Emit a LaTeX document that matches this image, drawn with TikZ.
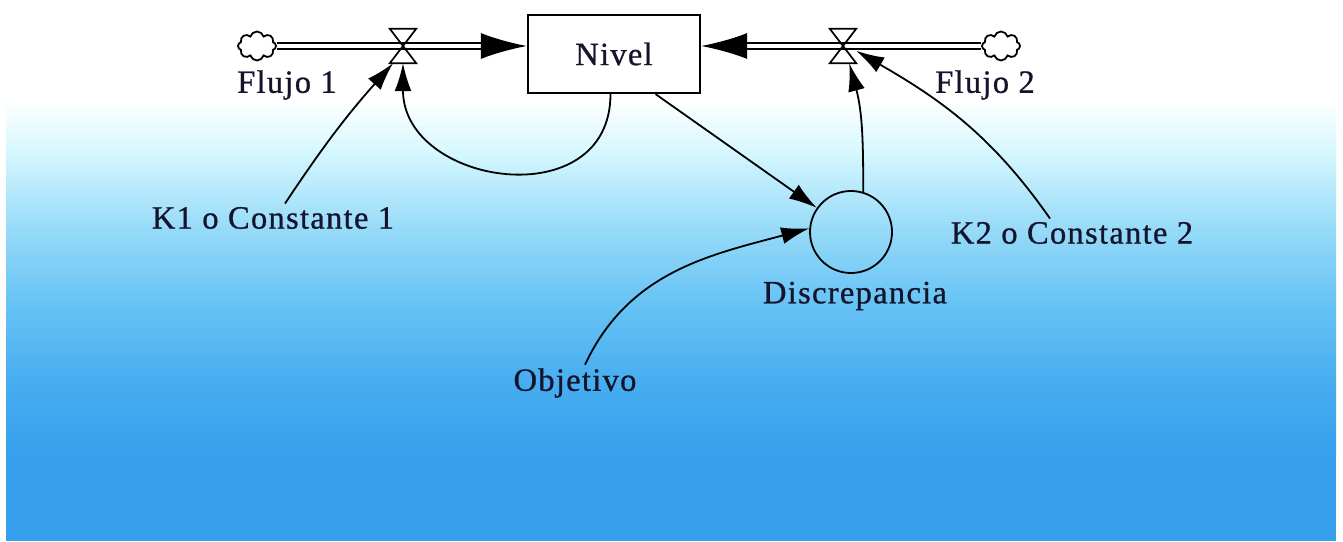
\documentclass[tikz,border=0pt]{standalone}
\usepackage{fontspec}
\setmainfont{Liberation Serif}[LetterSpace=4,FakeBold=0.8]
\usetikzlibrary{arrows.meta,shapes.symbols}

\definecolor{sky1}{RGB}{215,248,255}
\definecolor{sky2}{RGB}{150,218,248}
\definecolor{sky3}{RGB}{105,196,245}
\definecolor{sky4}{RGB}{72,174,240}
\definecolor{skybot}{RGB}{54,160,237}
\definecolor{ink}{RGB}{20,20,45}

\begin{document}
\begin{tikzpicture}[
      x=1pt,y=1pt,
      >={Latex[length=28pt,width=17pt]},
      every node/.style={font=\fontsize{32.5}{38}\selectfont,text=ink},
      stock/.style={draw,line width=2.2,minimum width=172,minimum height=78,inner sep=0,fill=white},
      aux/.style={draw,circle,line width=1.8,minimum size=82,inner sep=0},
      source/.style={draw,cloud,cloud puffs=8,aspect=1.4,line width=1.8,minimum width=38,minimum height=29,inner sep=0,fill=white},
      valve/.style={minimum width=26,minimum height=34,inner sep=0},
      pipe/.style={draw,double,double distance=4.5,line width=2},
      flowtip/.style={-{Latex[length=46pt,width=26pt]},line width=2},
      link/.style={->,line width=1.8}
    ]
    \useasboundingbox (0,0) rectangle (1343,541);

    % backdrop: white band on top, fading into blue
    \fill[white] (0,0) rectangle (1343,541);
    \fill[skybot] (6,0) rectangle (1336,86.5);
    \shade[top color=sky4,bottom color=skybot] (6,86) rectangle (1336,161.5);
    \shade[top color=sky3,bottom color=sky4] (6,161) rectangle (1336,241.5);
    \shade[top color=sky2,bottom color=sky3] (6,241) rectangle (1336,311.5);
    \shade[top color=sky1,bottom color=sky2] (6,311) rectangle (1336,391.5);
    \shade[top color=white,bottom color=sky1] (6,391) rectangle (1336,441);

    \node[stock] (nivel) at (614,487) {Nivel};
    \node[aux] (disc) at (851,309) {};
    \node[source] (src1) at (257,495) {};
    \node[source] (src2) at (1001,495) {};
    \node[valve] (v1) at (403,495) {};
    \node[valve] (v2) at (843,495) {};

    \node (flujo1) at (287,456) {Flujo 1};
    \node (flujo2) at (985,456) {Flujo 2};
    \node (k1) at (273,323) {K1 o Constante 1};
    \node (k2) at (1072,308) {K2 o Constante 2};
    \node (discl) at (855,245) {Discrepancia};
    \node (obj) at (575,158) {Objetivo};

    % flow pipes into the stock
    \coordinate (in1) at (src1.east -| nivel.west);
    \coordinate (in2) at (src2.west -| nivel.east);
    \draw[pipe,shorten >=40] (src1.east) -- (in1);
    \draw[pipe,shorten >=40] (src2.west) -- (in2);
    \draw[flowtip] (in1) ++(-44,0) -- (in1);
    \draw[flowtip] (in2) ++(44,0) -- (in2);
    \foreach \v in {v1,v2}
      \draw[line width=1.7] (\v.north west) -- (\v.north east) -- (\v.south west) -- (\v.south east) -- cycle;

    \path[link]
      ([xshift=12]k1.north) edge [bend left=4] (v1.240)
      (nivel.265) edge [out=-90,in=-90,looseness=1.5] (v1.south)
      (nivel.316) edge (disc)
      (disc.73) edge [out=90,in=-75] (v2.290)
      ([xshift=-22]k2.north) edge [out=125,in=-30] (v2.-20)
      ([xshift=10]obj.north) edge [out=65,in=195] (disc.175)
      ;
  \end{tikzpicture}
\end{document}
